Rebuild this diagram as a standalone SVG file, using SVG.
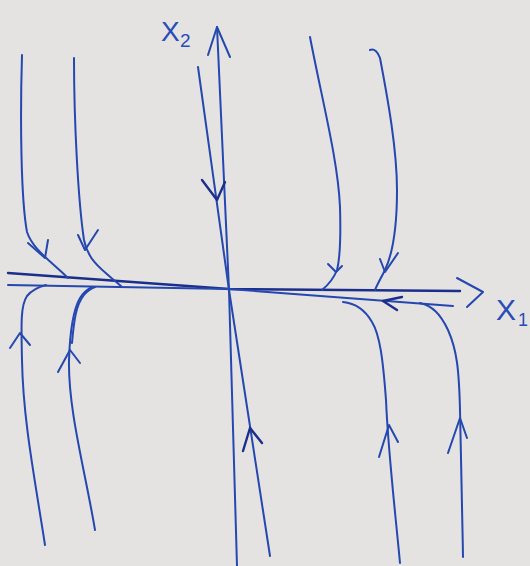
<svg xmlns="http://www.w3.org/2000/svg" width="530" height="566" viewBox="0 0 530 566">
<style>
.ink{fill:none;stroke:#2547b0;stroke-width:2;stroke-linecap:round;stroke-linejoin:round}
.dark{fill:none;stroke:#1c2e8c;stroke-width:2.4;stroke-linecap:round;stroke-linejoin:round}
.lbl{font-family:"Liberation Sans",Arial,sans-serif;fill:#2a4cb8}
</style>
<rect width="530" height="566" fill="#e4e3e1"/>
<g id="axes">
  <path class="ink" d="M217,27 L229,290 L237,566"/>
  <path class="ink" d="M208,55 L217,27 L230,57"/>
  <path class="dark" d="M8,273 L229,289 L460,291"/>
  <path class="ink" d="M8,285 L229,289 L453,306"/>
  <path class="ink" d="M457,278 L483,292 L467,307"/>
</g>
<g id="labels">
  <text class="lbl" x="161" y="41" font-size="28">X</text>
  <text class="lbl" x="180" y="47" font-size="19">2</text>
  <text class="lbl" x="496" y="320" font-size="30">X</text>
  <text class="lbl" x="518" y="326" font-size="18">1</text>
</g>
<g id="connectors">
  <g id="stable-manifold">
    <path class="ink" d="M198,67 L229,290 L270,556"/>
    <path class="dark" d="M202,180 L217,200 L225,182"/>
    <path class="dark" d="M243,451 L250,428 L262,443"/>
  </g>
  <g id="traj-top-left-1">
    <path class="ink" d="M22,55 C20,120 21,200 27,232 C33,250 52,262 68,278"/>
    <path class="ink" d="M28,243 L45,258 L48,240"/>
  </g>
  <g id="traj-top-left-2">
    <path class="ink" d="M74,58 C74,120 78,200 84,240 C88,262 105,272 121,286"/>
    <path class="ink" d="M78,235 L85,250 L98,230"/>
  </g>
  <g id="traj-top-right-1">
    <path class="ink" d="M310,37 C322,100 338,160 340,207 C341,240 339,262 337,270 C333,280 327,286 322,290"/>
    <path class="ink" d="M328,264 L336,272 L342,266"/>
  </g>
  <g id="traj-top-right-2">
    <path class="ink" d="M370,50 C374,48 378,52 380,58 C388,100 397,150 397,190 C397,230 392,255 385,270 C381,278 377,285 375,290"/>
    <path class="ink" d="M380,259 L385,272 L398,253"/>
  </g>
  <g id="traj-bottom-left-1">
    <path class="ink" d="M45,545 C35,480 23,420 22,360 C21,320 21,305 27,296 C32,290 38,287 46,285"/>
    <path class="ink" d="M10,348 L20,333 L30,345"/>
  </g>
  <g id="traj-bottom-left-2">
    <path class="ink" d="M95,530 C85,470 68,410 69,360 C70,330 73,310 80,298 C84,292 88,289 92,287"/>
    <path class="ink" d="M72,343 C74,320 76,305 84,295 C88,290 92,288 95,287"/>
    <path class="ink" d="M58,372 L70,350 L80,363"/>
  </g>
  <g id="traj-bottom-right-1">
    <path class="ink" d="M400,563 C395,510 388,450 386,400 C383,360 380,335 372,322 C364,308 353,303 343,302"/>
    <path class="ink" d="M379,457 L389,425 L398,442"/>
  </g>
  <g id="traj-bottom-right-2">
    <path class="ink" d="M463,557 C462,500 461,440 460,410 C459,370 457,350 448,330 C440,313 432,306 420,303"/>
    <path class="ink" d="M448,453 L460,418 L467,438"/>
  </g>
  <g id="reverse-arrow">
    <path class="dark" d="M402,297 L383,301 L397,310"/>
  </g>
</g>
</svg>
